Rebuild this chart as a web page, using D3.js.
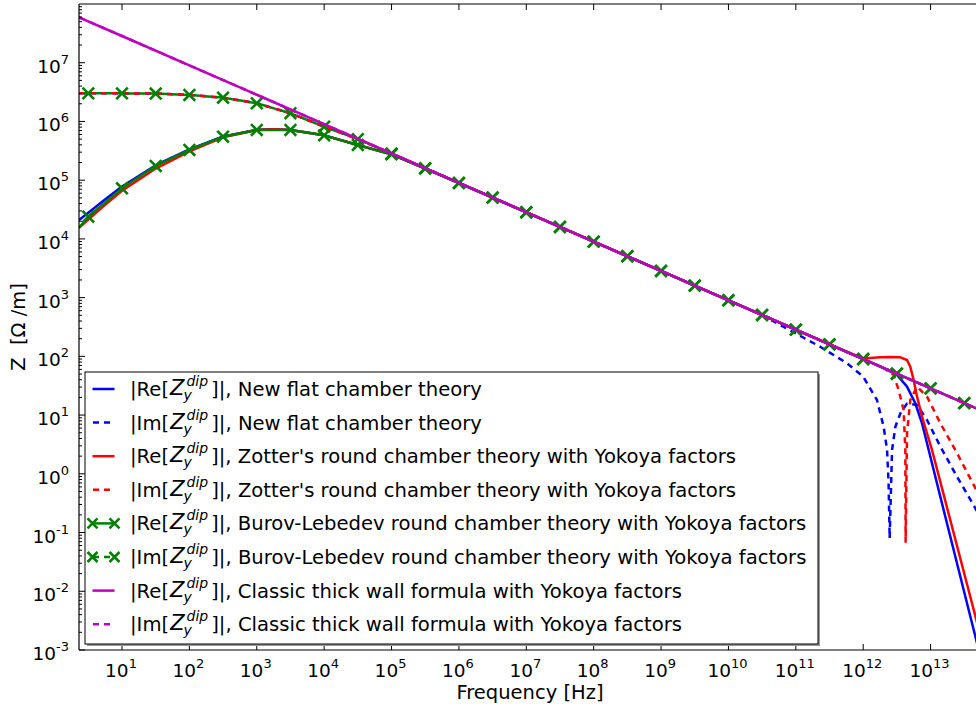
<!DOCTYPE html>
<html><head><meta charset="utf-8">
<script src="https://cdn.jsdelivr.net/npm/d3@7"></script>
<style>body{margin:0;background:#fff} svg{display:block} text{font-family:"DejaVu Sans",sans-serif;fill:#000}</style>
</head><body><svg id="c" width="976" height="708"></svg>
<script>
// ---------------- data ----------------
// Burov-Lebedev (green) sampled at half-decades
const freqGreen = [2.3, 3.16, 1e1, 3.16e1, 1e2, 3.16e2, 1e3, 3.16e3, 1e4, 3.16e4, 1e5, 3.16e5, 1e6, 3.16e6, 1e7, 3.16e7, 1e8, 3.16e8, 1e9, 3.16e9, 1e10, 3.16e10, 1e11, 3.16e11, 1e12, 3.16e12, 1e13, 3.16e13, 5.6e13];
const greenRe = [1.55e4, 2.39e4, 7.28e4, 1.75e5, 3.27e5, 5.5e5, 7.16e5, 7.16e5, 5.8e5, 3.98e5, 2.75e5, 1.58e5, 8.95e4, 5.05e4, 2.84e4, 1.6e4, 9.0e3, 5.07e3, 2.85e3, 1.6e3, 900, 507, 285, 160, 90, 50.7, 28.5, 16.0, 12.0];
const greenIm = [3.01e6, 3.01e6, 3.01e6, 2.99e6, 2.83e6, 2.54e6, 2.04e6, 1.38e6, 8.15e5, 5.0e5, 2.84e5, 1.6e5, 9.0e4, 5.06e4, 2.85e4, 1.6e4, 9.0e3, 5.07e3, 2.85e3, 1.6e3, 900, 507, 285, 160, 90, 50.7, 28.5, 16.0, 12.0];

// New flat chamber theory (blue)
const freqBlueRe = [2.3, 3.16, 5.6, 10, 31.6, 100, 316, 1e3, 1.78e3, 3.16e3, 1e4, 3.16e4, 1e5, 3.16e5, 1e6, 1e7, 1e8, 1e9, 1e10, 1e11, 1e12, 1.79e12, 3.18e12, 4.47e12, 5.93e12, 7.46e12, 8.85e12, 1.75e13, 4.78e13, 5.6e13];
const blueRe = [2.1e4, 2.8e4, 4.7e4, 7.8e4, 1.8e5, 3.35e5, 5.55e5, 7.2e5, 7.4e5, 7.16e5, 5.8e5, 3.98e5, 2.75e5, 1.58e5, 8.95e4, 2.84e4, 9.0e3, 2.85e3, 900, 285, 90, 66.7, 48.2, 30.5, 15.9, 7.26, 3.31, 0.144, 1.45e-3, 6.9e-4];
const freqBlueIm = [2.3, 3.16, 10, 31.6, 100, 316, 1e3, 3.16e3, 1e4, 3.16e4, 1e5, 1e6, 1e7, 1e8, 1e9, 1e10, 3.16e10, 5.85e10, 2.3e11, 5.75e11, 1.0e12, 1.6e12, 2.01e12, 2.26e12, 2.38e12, 2.47e12, 2.68e12, 3.0e12, 3.56e12, 4.47e12, 6.3e12, 8.85e12, 1.4e13, 2.47e13, 4.78e13, 5.6e13];
const blueIm = [3.01e6, 3.01e6, 3.01e6, 2.99e6, 2.83e6, 2.54e6, 2.04e6, 1.38e6, 8.15e5, 5.0e5, 2.84e5, 9.0e4, 2.85e4, 9.0e3, 2.85e3, 900, 507, 342, 146, 76.4, 45.1, 18.1, 6.34, 2.55, 0.70, 0.08, 2.55, 6.34, 10.7, 15.8, 14.9, 8.24, 2.9, 0.89, 0.242, 0.178];

// Zotter's round chamber theory (red)
const freqRedRe = [2.3, 3.16, 5.6, 10, 31.6, 100, 316, 1e3, 1.78e3, 3.16e3, 1e4, 3.16e4, 1e5, 3.16e5, 1e6, 1e7, 1e8, 1e9, 1e10, 1e11, 5.6e11, 1e12, 1.26e12, 1.79e12, 2.51e12, 3.56e12, 4.47e12, 5.0e12, 5.6e12, 6.3e12, 7.46e12, 8.85e12, 1.05e13, 1.56e13, 4.78e13, 5.6e13];
const redRe = [1.55e4, 2.14e4, 3.8e4, 6.6e4, 1.58e5, 3.09e5, 5.37e5, 7.16e5, 7.4e5, 7.16e5, 5.8e5, 3.98e5, 2.75e5, 1.58e5, 8.95e4, 2.84e4, 9.0e3, 2.85e3, 900, 285, 121, 92, 93.5, 96.4, 97.7, 96.4, 86.7, 66.7, 39.6, 20.6, 9.4, 4.9, 2.55, 0.446, 3.24e-3, 1.6e-3];
const freqRedIm = [2.3, 3.16, 10, 31.6, 100, 316, 1e3, 3.16e3, 1e4, 3.16e4, 1e5, 1e6, 1e7, 1e8, 1e9, 1e10, 1e11, 1e12, 2.0e12, 2.83e12, 3.36e12, 3.98e12, 4.22e12, 4.26e12, 4.47e12, 5.0e12, 6.3e12, 8.85e12, 1.4e13, 2.47e13, 4.78e13, 5.6e13];
const redIm = [3.01e6, 3.01e6, 3.01e6, 2.99e6, 2.83e6, 2.54e6, 2.04e6, 1.38e6, 8.15e5, 5.0e5, 2.84e5, 9.0e4, 2.85e4, 9.0e3, 2.85e3, 900, 285, 90, 63.8, 48.2, 26.7, 12.2, 2.55, 0.07, 4.9, 18.1, 30.5, 20.6, 7.24, 2.24, 0.53, 0.44];

// Classic thick wall formula (magenta)
const freqClassic = [2.3, 1e1, 1e2, 1e3, 1e4, 1e5, 1e6, 1e7, 1e8, 1e9, 1e10, 1e11, 1e12, 1e13, 5.6e13];
const classicRe = [5.93e7, 2.85e7, 9.0e6, 2.85e6, 9.0e5, 2.85e5, 9.0e4, 2.85e4, 9.0e3, 2.85e3, 900, 285, 90, 28.5, 12.0];
const classicIm = [5.93e7, 2.85e7, 9.0e6, 2.85e6, 9.0e5, 2.85e5, 9.0e4, 2.85e4, 9.0e3, 2.85e3, 900, 285, 90, 28.5, 12.0];

const xTickExps = [1,2,3,4,5,6,7,8,9,10,11,12,13];
const yTickExps = [-3,-2,-1,0,1,2,3,4,5,6,7];

const legendPrefix = ["|Re[", "|Im[", "|Re[", "|Im[", "|Re[", "|Im[", "|Re[", "|Im["];
const legendSuffix = ["]|, New flat chamber theory", "]|, New flat chamber theory",
  "]|, Zotter's round chamber theory with Yokoya factors", "]|, Zotter's round chamber theory with Yokoya factors",
  "]|, Burov-Lebedev round chamber theory with Yokoya factors", "]|, Burov-Lebedev round chamber theory with Yokoya factors",
  "]|, Classic thick wall formula with Yokoya factors", "]|, Classic thick wall formula with Yokoya factors"];

// ---------------- chart ----------------
const svg = d3.select("#c");
const L = 79, R = 981, T = 4, B = 650;
const x = d3.scaleLog().domain([2.3, 5.6e13]).range([L, R]);
const y = d3.scaleLog().domain([1e-3, 1e8]).range([B, T]);

svg.append("defs").append("clipPath").attr("id", "clip")
  .append("rect").attr("x", L).attr("y", T).attr("width", R - L).attr("height", B - T);

const zip = (f, v) => f.map((d, i) => [d, v[i]]);
const line = d3.line().x(d => x(d[0])).y(d => y(d[1]));

const blue = "#0000ff", red = "#ff0000", green = "#008000", mag = "#bf00bf";
const LW = 2.5, DASH = "6,5";

const series = [
  {data: zip(freqBlueRe, blueRe), color: blue, dash: null},
  {data: zip(freqBlueIm, blueIm), color: blue, dash: DASH},
  {data: zip(freqRedRe, redRe), color: red, dash: null},
  {data: zip(freqRedIm, redIm), color: red, dash: DASH},
  {data: zip(freqGreen, greenRe), color: green, dash: null, markers: true},
  {data: zip(freqGreen, greenIm), color: green, dash: DASH, offset: 6, markers: true},
  {data: zip(freqClassic, classicRe), color: mag, dash: null},
  {data: zip(freqClassic, classicIm), color: mag, dash: DASH}
];

const plot = svg.append("g").attr("clip-path", "url(#clip)");
function xMarker(g, cx, cy, s, color) {
  g.append("path").attr("d", `M${cx - s},${cy - s}L${cx + s},${cy + s}M${cx - s},${cy + s}L${cx + s},${cy - s}`)
    .attr("stroke", color).attr("stroke-width", 2.6).attr("fill", "none");
}
series.forEach(s => {
  const p = plot.append("path").attr("d", line(s.data)).attr("fill", "none")
    .attr("stroke", s.color).attr("stroke-width", LW).attr("stroke-linejoin", "round");
  if (s.dash) p.attr("stroke-dasharray", s.dash).attr("stroke-dashoffset", s.offset || 0);
  if (s.markers) {
    s.data.filter(d => d[0] > 3 && d[0] < 4e13).forEach(d => xMarker(plot, x(d[0]), y(d[1]), 5.8, s.color));
  }
});

// axes frame
const ax = svg.append("g");
ax.append("line").attr("x1", L).attr("x2", R).attr("y1", T).attr("y2", T).attr("stroke", "#000").attr("stroke-width", 1.2);
ax.append("line").attr("x1", L).attr("x2", R).attr("y1", B).attr("y2", B).attr("stroke", "#000").attr("stroke-width", 1.2);
ax.append("line").attr("x1", L).attr("x2", L).attr("y1", T).attr("y2", B).attr("stroke", "#000").attr("stroke-width", 1.2);

// x ticks
xTickExps.forEach(e => {
  const px = x(Math.pow(10, e));
  ax.append("line").attr("x1", px).attr("x2", px).attr("y1", B).attr("y2", B - 6).attr("stroke", "#000");
  ax.append("line").attr("x1", px).attr("x2", px).attr("y1", T).attr("y2", T + 6).attr("stroke", "#000");
  const t = ax.append("text").attr("x", px - 1).attr("y", 676.5).attr("text-anchor", "middle").attr("font-size", 18.5);
  t.append("tspan").text("10");
  t.append("tspan").attr("dy", -9).attr("font-size", 13).text(e);
});
// y ticks
yTickExps.forEach(e => {
  const py = y(Math.pow(10, e));
  ax.append("line").attr("x1", L).attr("x2", L + 6).attr("y1", py).attr("y2", py).attr("stroke", "#000");
  const t = ax.append("text").attr("x", 69).attr("y", py + 10).attr("text-anchor", "end").attr("font-size", 18.5);
  t.append("tspan").text("10");
  t.append("tspan").attr("dy", -9).attr("font-size", 13).text(e < 0 ? "-" + (-e) : e);
});
for (let e = -3; e < 8; e++) {
  for (let m = 2; m <= 9; m++) {
    const py = y(m * Math.pow(10, e));
    if (py < T) continue;
    ax.append("line").attr("x1", L).attr("x2", L + 3).attr("y1", py).attr("y2", py).attr("stroke", "#000");
  }
}

// axis labels
svg.append("text").attr("x", 530).attr("y", 699).attr("text-anchor", "middle").attr("font-size", 19.5).text("Frequency [Hz]");
svg.append("text").attr("transform", "translate(25,327) rotate(-90)").attr("text-anchor", "middle")
  .attr("font-size", 19.5).text("Z\u00a0\u00a0[\u03A9 /m]");

// legend
const lg = svg.append("g");
const LX = 85, LY = 372, LWd = 733, LH = 272;
lg.append("rect").attr("x", LX + 2).attr("y", LY + 2).attr("width", LWd).attr("height", LH).attr("fill", "#999");
lg.append("rect").attr("x", LX).attr("y", LY).attr("width", LWd).attr("height", LH).attr("fill", "#fff").attr("stroke", "#000").attr("stroke-width", 1);
series.forEach((s, i) => {
  const cy = 389 + i * 33.6;
  const hl = lg.append("line").attr("x1", 92.5).attr("x2", 114.5).attr("y1", cy).attr("y2", cy)
    .attr("stroke", s.color).attr("stroke-width", LW);
  if (s.dash) hl.attr("stroke-dasharray", s.dash).attr("stroke-dashoffset", -0.5);
  if (s.markers) { xMarker(lg, 92.5, cy, 5, s.color); xMarker(lg, 114.5, cy, 5, s.color); }
  const b = cy + 7;
  const t1 = lg.append("text").attr("x", 130).attr("y", b).attr("font-size", 19.6).text(legendPrefix[i]);
  const w1 = t1.node().getComputedTextLength();
  const zx = 130 + w1 + 1;
  const z = lg.append("text").attr("x", zx).attr("y", b - 1).attr("font-family", "Liberation Serif")
    .attr("font-style", "italic").attr("font-size", 21).text("Z");
  const zEnd = zx + z.node().getComputedTextLength();
  lg.append("text").attr("x", zEnd - 1).attr("y", b + 4).attr("font-family", "Liberation Serif")
    .attr("font-style", "italic").attr("font-size", 14).text("y");
  const sup = lg.append("text").attr("x", zEnd + 2).attr("y", b - 10).attr("font-family", "Liberation Serif")
    .attr("font-style", "italic").attr("font-size", 14).text("dip");
  const supEnd = zEnd + 2 + sup.node().getComputedTextLength();
  lg.append("text").attr("x", supEnd + 3).attr("y", b).attr("font-size", 19.6).text(legendSuffix[i]);
});
</script>
</body></html>
